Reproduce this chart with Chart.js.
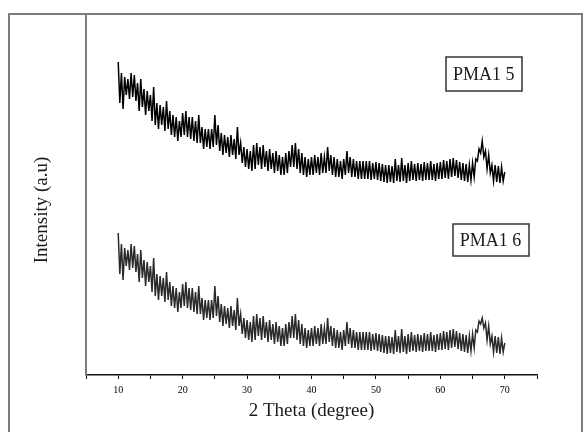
<!DOCTYPE html>
<html>
<head>
<meta charset="utf-8">
<title>XRD PMA1</title>
<script src="https://cdn.jsdelivr.net/npm/chart.js@4.4.1/dist/chart.umd.min.js"></script>
<style>
  body { margin: 0; background: #fff; }
  #wrap { position: relative; width: 584px; height: 432px; overflow: hidden; }
  #frame { position: absolute; left: 8px; top: 13px; width: 571px; height: 440px; border: 2px solid #7d7d7d; }
  canvas { position: absolute; left: 0; top: 0; }
</style>
</head>
<body>
<div id="wrap">
  <div id="frame"></div>
  <canvas id="xrdChart" width="584" height="432"></canvas>
</div>
<script>
// scan grid (2 theta, degrees)
const scanStart = 10;
const scanStep = 0.25;

// intensity (a.u.), one row per degree, stacked with offset
const pma15 = [
  313, 272, 302, 266,
  298, 280, 296, 276,
  302, 278, 300, 274,
  292, 264, 296, 268,
  286, 260, 284, 264,
  280, 254, 288, 250,
  272, 246, 270, 250,
  268, 244, 274, 246,
  264, 240, 260, 238,
  258, 234, 254, 238,
  262, 240, 264, 238,
  258, 236, 258, 234,
  254, 232, 260, 232,
  248, 226, 246, 228,
  246, 226, 246, 228,
  260, 230, 250, 224,
  242, 220, 240, 222,
  238, 218, 240, 220,
  236, 216, 248, 220,
  232, 212, 228, 208,
  226, 206, 224, 204,
  230, 206, 232, 210,
  228, 206, 230, 208,
  224, 204, 226, 206,
  222, 202, 224, 204,
  220, 200, 218, 200,
  222, 202, 224, 208,
  230, 208, 232, 206,
  226, 202, 222, 200,
  218, 198, 216, 200,
  218, 200, 220, 202,
  218, 200, 222, 202,
  218, 202, 228, 204,
  220, 200, 218, 198,
  216, 198, 214, 196,
  216, 200, 224, 202,
  218, 198, 216, 198,
  214, 196, 214, 196,
  214, 196, 214, 196,
  214, 195, 212, 196,
  213, 195, 212, 194,
  211, 193, 210, 192,
  210, 193, 209, 192,
  216, 194, 210, 193,
  217, 194, 210, 192,
  212, 194, 214, 195,
  211, 194, 212, 195,
  211, 194, 213, 195,
  212, 195, 214, 195,
  211, 194, 212, 196,
  213, 196, 215, 197,
  214, 196, 216, 198,
  217, 199, 215, 197,
  213, 195, 212, 194,
  211, 193, 210, 195,
  212, 198, 216, 214,
  226, 222, 234, 218,
  224, 206, 220, 202,
  210, 194, 210, 193,
  209, 192, 208, 194,
  203
];

const pma16 = [
  142, 101, 131, 95,
  127, 109, 125, 105,
  131, 107, 129, 103,
  121, 93, 125, 97,
  115, 89, 113, 93,
  109, 83, 117, 79,
  101, 75, 99, 79,
  97, 73, 103, 75,
  93, 69, 89, 67,
  87, 63, 83, 67,
  91, 69, 93, 67,
  87, 65, 87, 63,
  83, 61, 89, 61,
  77, 55, 75, 57,
  75, 55, 75, 57,
  89, 59, 79, 53,
  71, 49, 69, 51,
  67, 47, 69, 49,
  65, 45, 77, 49,
  61, 41, 57, 37,
  55, 35, 53, 33,
  59, 35, 61, 39,
  57, 35, 59, 37,
  53, 33, 55, 35,
  51, 31, 53, 33,
  49, 29, 47, 29,
  51, 31, 53, 37,
  59, 37, 61, 35,
  55, 31, 51, 29,
  47, 27, 45, 29,
  47, 29, 49, 31,
  47, 29, 51, 31,
  47, 31, 57, 33,
  49, 29, 47, 27,
  45, 27, 43, 25,
  45, 29, 53, 31,
  47, 27, 45, 27,
  43, 25, 43, 25,
  43, 25, 43, 25,
  43, 24, 41, 25,
  42, 24, 41, 23,
  40, 22, 39, 21,
  39, 22, 38, 21,
  45, 23, 39, 22,
  46, 23, 39, 21,
  41, 23, 43, 24,
  40, 23, 41, 24,
  40, 23, 42, 24,
  41, 24, 43, 24,
  40, 23, 41, 25,
  42, 25, 44, 26,
  43, 25, 45, 27,
  46, 28, 44, 26,
  42, 24, 41, 23,
  40, 22, 39, 24,
  41, 27, 45, 43,
  54, 51, 57, 47,
  52, 35, 49, 31,
  39, 23, 39, 22,
  38, 21, 37, 23,
  32
];

const xTickLabels = [10, 20, 30, 40, 50, 60, 70];
const sampleNames = ['PMA1 5', 'PMA1 6'];

const serif = "'Liberation Serif', 'Times New Roman', serif";

function toPoints(arr) {
  return arr.map(function(v, i) { return { x: scanStart + i * scanStep, y: v }; });
}

// boxed sample names + rotated y title
const annotations = {
  id: 'annotations',
  afterDraw: function(chart) {
    const ctx = chart.ctx;
    const xs = chart.scales.x, ys = chart.scales.y;
    const spots = [
      { name: sampleNames[0], x: 66.75, y: 301, h: 34 },
      { name: sampleNames[1], x: 67.8, y: 135, h: 32 }
    ];
    ctx.save();
    ctx.font = '18px ' + serif;
    ctx.textAlign = 'center';
    ctx.textBaseline = 'middle';
    spots.forEach(function(s) {
      const cx = xs.getPixelForValue(s.x);
      const cy = ys.getPixelForValue(s.y);
      const w = ctx.measureText(s.name).width + 14;
      ctx.strokeStyle = '#333';
      ctx.lineWidth = 1.5;
      ctx.strokeRect(Math.round(cx - w / 2), Math.round(cy - s.h / 2), Math.round(w), s.h);
      ctx.fillStyle = '#1a1a1a';
      ctx.fillText(s.name, cx, cy + 1);
    });

    ctx.translate(42, 210);
    ctx.rotate(-Math.PI / 2);
    ctx.font = '19px ' + serif;
    ctx.fillStyle = '#1a1a1a';
    ctx.fillText('Intensity (a.u)', 0, 0);
    ctx.restore();
  }
};

const ctx = document.getElementById('xrdChart');

new Chart(ctx, {
  type: 'line',
  data: {
    datasets: [
      { label: sampleNames[0], data: toPoints(pma15), borderColor: '#000', borderWidth: 1.5, pointRadius: 0, tension: 0 },
      { label: sampleNames[1], data: toPoints(pma16), borderColor: '#2a2a2a', borderWidth: 1.5, pointRadius: 0, tension: 0 }
    ]
  },
  options: {
    responsive: false,
    animation: false,
    layout: { padding: { left: 0, right: 47, top: 15, bottom: 0 } },
    plugins: { legend: { display: false }, tooltip: { enabled: false } },
    scales: {
      x: {
        type: 'linear',
        min: 5,
        max: 75,
        afterFit: function(scale) { scale.height = 57; },
        border: { display: true, color: '#111', width: 1.5 },
        grid: { display: true, drawOnChartArea: false, drawTicks: true, tickLength: 4, color: '#111', lineWidth: 1 },
        ticks: {
          stepSize: 5,
          autoSkip: false,
          maxRotation: 0,
          padding: 5,
          color: '#000',
          font: { family: serif, size: 10 },
          callback: function(v) { return xTickLabels.indexOf(v) >= 0 ? v : ''; }
        },
        title: { display: true, text: '2 Theta (degree)', color: '#1a1a1a', font: { family: serif, size: 19 }, padding: { top: 0, bottom: 10 } }
      },
      y: {
        min: 0,
        max: 360,
        afterFit: function(scale) { scale.width = 86; },
        border: { display: true, color: '#7d7d7d', width: 2 },
        grid: { display: false, drawTicks: false },
        ticks: { display: false }
      }
    }
  },
  plugins: [annotations]
});
</script>
</body>
</html>
